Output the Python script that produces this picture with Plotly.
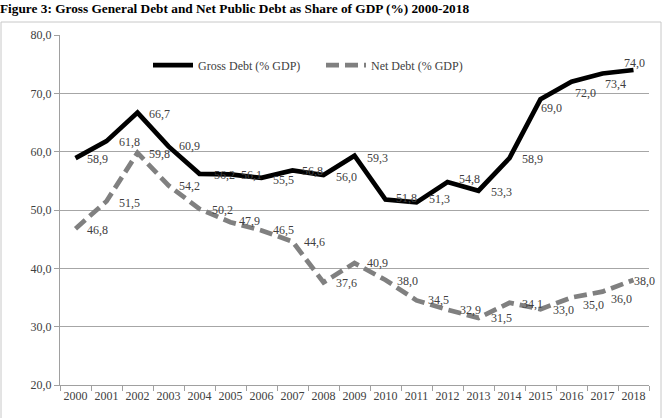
import plotly.graph_objects as go

years = [str(y) for y in range(2000, 2019)]
gross = [58.9, 61.8, 66.7, 60.9, 56.2, 56.1, 55.5, 56.8, 56.0, 59.3,
         51.8, 51.3, 54.8, 53.3, 58.9, 69.0, 72.0, 73.4, 74.0]
net = [46.8, 51.5, 59.8, 54.2, 50.2, 47.9, 46.5, 44.6, 37.6, 40.9,
       38.0, 34.5, 32.9, 31.5, 34.1, 33.0, 35.0, 36.0, 38.0]
y_ticks = [20, 30, 40, 50, 60, 70, 80]
y_ticktext = ["20,0", "30,0", "40,0", "50,0", "60,0", "70,0", "80,0"]

# label offsets (style only), pixels: dx right, dy down
gross_dx = [22, 23, 22, 21, 25, 21, 22, 20, 23, 23, 21, 23, 22, 23, 23, 11, 14, 13, 1]
gross_dy = [1, 1, 1, 0, 1, 1, 2, 1, 2, 2, -2, -3, -3, 1, 1, 9, 11, 10, -7]
net_dx = [22, 23, 22, 21, 23, 19, 22, 22, 23, 23, 22, 22, 23, 23, 23, 23, 22, 19, 11]
net_dy = [1, 2, 1, 0, 1, -1, 0, 0, 1, 0, 1, 0, 0, 0, 1, 1, 7, 7, 1]

def fmt(v):
    return f"{v:.1f}".replace(".", ",")

FONT = "'Liberation Serif', 'Times New Roman', Times, serif"
TXT = "#404040"

fig = go.Figure()
fig.add_trace(go.Scatter(x=years, y=gross, mode="lines", name="Gross Debt (% GDP)",
                         line=dict(color="#000000", width=4.75)))
fig.add_trace(go.Scatter(x=years, y=net, mode="lines", name="Net Debt (% GDP)",
                         line=dict(color="#808080", width=4.75, dash="13px,6px")))

ann = []
for i, (v, dx, dy) in enumerate(zip(gross, gross_dx, gross_dy)):
    ann.append(dict(x=i, y=v, xref="x", yref="y", text=fmt(v), showarrow=False,
                    xanchor="center", yanchor="middle", xshift=dx, yshift=-dy,
                    font=dict(family=FONT, size=12, color=TXT)))
for i, (v, dx, dy) in enumerate(zip(net, net_dx, net_dy)):
    ann.append(dict(x=i, y=v, xref="x", yref="y", text=fmt(v), showarrow=False,
                    xanchor="center", yanchor="middle", xshift=dx, yshift=-dy,
                    font=dict(family=FONT, size=12, color=TXT)))

W, H = 668, 418
L, R, T, B = 60, 19, 35, 33
pw, ph = W - L - R, H - T - B

fig.add_shape(type="rect", xref="paper", yref="paper",
              x0=(1 - L) / pw, x1=(661 - L) / pw,
              y0=-0.3, y1=(H - B - 22) / ph,
              line=dict(color="#c8c8c8", width=1), fillcolor="rgba(0,0,0,0)", layer="below")

fig.update_layout(
    width=W, height=H,
    margin=dict(l=L, r=R, t=T, b=B),
    paper_bgcolor="white", plot_bgcolor="white",
    font=dict(family=FONT, size=12, color=TXT),
    title=dict(text="<b>Figure 3: Gross General Debt and Net Public Debt as Share of GDP (%) 2000-2018</b>",
               x=0, xref="container", xanchor="left",
               y=1 - 8 / H, yref="container", yanchor="middle",
               font=dict(family=FONT, size=13.3, color="#000000")),
    showlegend=True,
    legend=dict(orientation="h", x=(148 - L) / pw, xanchor="left",
                y=(H - B - 65) / ph, yanchor="middle",
                font=dict(family=FONT, size=12, color=TXT),
                itemwidth=40, entrywidth=118, bgcolor="rgba(0,0,0,0)"),
    annotations=ann,
)
fig.update_xaxes(type="category", range=[-0.5, 18.5], showgrid=False,
                 showline=True, linecolor="#a0a0a0", linewidth=1,
                 ticks="outside", tickson="boundaries", ticklen=5, tickcolor="#a0a0a0",
                 tickangle=0,
                 tickfont=dict(family=FONT, size=12, color=TXT))
fig.update_yaxes(range=[20, 80], tickvals=y_ticks, ticktext=y_ticktext,
                 showgrid=True, gridcolor="#a6a6a6", gridwidth=1,
                 showline=True, linecolor="#a0a0a0", linewidth=1,
                 ticks="outside", ticklen=5, tickcolor="#a0a0a0",
                 zeroline=False,
                 tickfont=dict(family=FONT, size=12, color=TXT))

fig.write_html("out.html")
